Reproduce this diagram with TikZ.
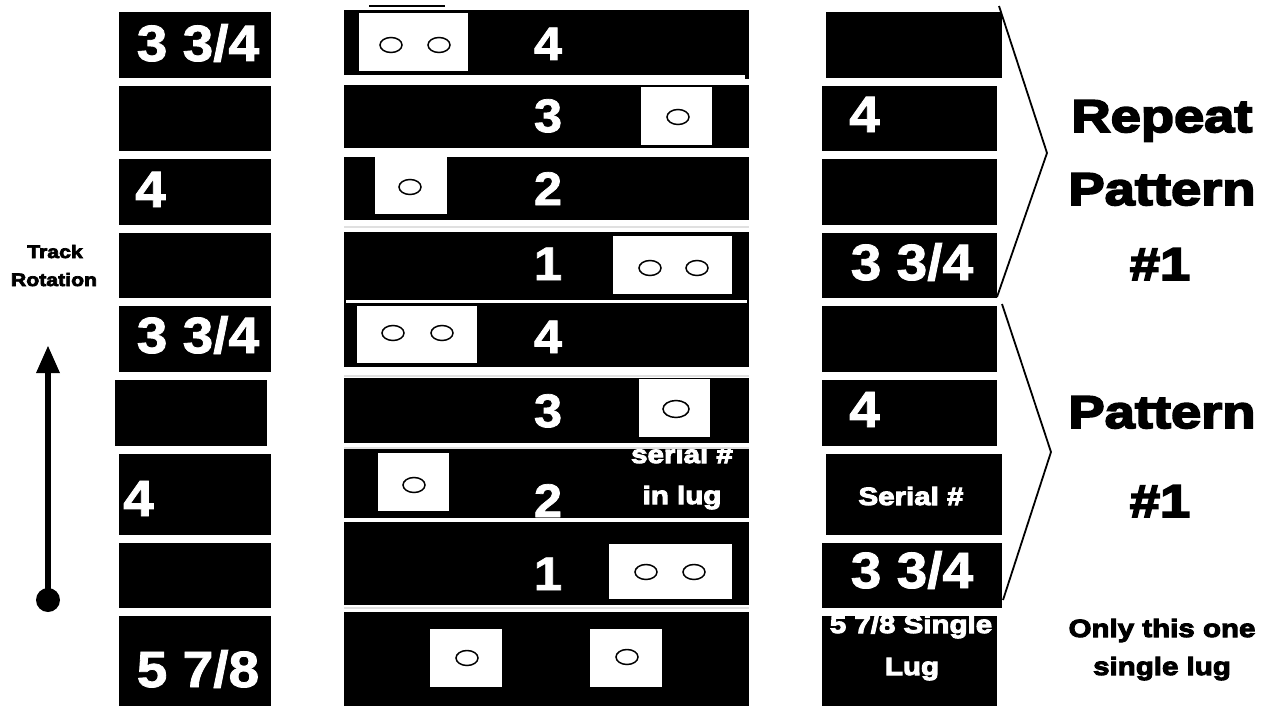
\documentclass[tikz,border=0pt]{standalone}
\usepackage{fontspec}
\setmainfont{Liberation Sans}
\newfontfamily\numf[FakeBold=1.6,FakeStretch=1.08]{Liberation Sans Bold}
\newfontfamily\heavy[FakeBold=4,FakeStretch=1.18]{Liberation Sans Bold}
\begin{document}
\begin{tikzpicture}[x=1pt,y=-1pt,
  blk/.style={fill=black},
  lugbox/.style={fill=white},
  hole/.style={draw=black,line width=1.5pt,fill=white},
  sep/.style={draw=black!12,line width=1.2pt},
  brk/.style={draw=black,line width=1.8pt},
  bignum/.style={text=white,font=\numf\fontsize{51}{51}\selectfont,inner sep=0pt,anchor=base},
  midnum/.style={text=white,font=\numf\fontsize{47}{47}\selectfont,inner sep=0pt,anchor=base},
  wlabel/.style={text=white,font=\heavy\fontsize{25}{25}\selectfont,inner sep=0pt,anchor=base},
  head/.style={text=black,font=\heavy\fontsize{46}{46}\selectfont,inner sep=0pt,anchor=base},
  note/.style={text=black,font=\heavy\fontsize{25}{25}\selectfont,inner sep=0pt,anchor=base},
  small/.style={text=black,font=\heavy\fontsize{18}{18}\selectfont,inner sep=0pt,anchor=base}]
\useasboundingbox (0,0) rectangle (1271,706);
% ---------------- left column ----------------
\fill[blk] (119,12) rectangle (271,78);
\fill[blk] (119,86) rectangle (271,151);
\fill[blk] (119,159) rectangle (271,225);
\fill[blk] (119,233) rectangle (271,298);
\fill[blk] (119,306) rectangle (271,372);
\fill[blk] (115,380) rectangle (267,446);
\fill[blk] (119,454) rectangle (271,535);
\fill[blk] (119,543) rectangle (271,608);
\fill[blk] (119,616) rectangle (271,706);
\node[bignum] (l1) at (198,61) {3 3/4};
\node[bignum,anchor=base west] (l3) at (135,207) {4};
\begin{scope}
\clip (119,306) rectangle (271,372);
\node[bignum] (l5) at (198,353) {3 3/4};
\end{scope}
\node[bignum,anchor=base west] (l7) at (123,516) {4};
\node[bignum] (l9) at (198,687) {5 7/8};
% track rotation
\node[small] (track) at (55,258) {Track};
\node[small] (rot) at (54,286) {Rotation};
\coordinate (arrS) at (48,600);
\coordinate (arrE) at (48,370);
\coordinate (arrT) at (48,346);
\draw[line width=6pt] (arrS) -- (arrE);
\fill (36,373) -- (arrT) -- (60,373) -- cycle;
\fill (arrS) circle [radius=12];
% ---------------- middle column ----------------
\coordinate (topa) at (369,6);
\coordinate (topb) at (445,6);
\draw[line width=2.5pt] (topa) -- (topb);
% row 1
\fill[blk] (344,10) rectangle (749,75);
\fill[blk] (745,74) rectangle (749,79);
\fill[lugbox] (359,13) rectangle (468,71);
\draw[hole] (391,45) ellipse [x radius=11,y radius=7.5];
\draw[hole] (439,45) ellipse [x radius=11,y radius=7.5];
\node[midnum] (m1) at (548,60) {4};
% row 2
\fill[blk] (344,85) rectangle (749,148);
\fill[lugbox] (641,87) rectangle (712,145);
\draw[hole] (678,117) ellipse [x radius=11,y radius=7.5];
\node[midnum] (m2) at (548,132) {3};
% row 3
\fill[blk] (344,157) rectangle (749,220);
\fill[lugbox] (375,156) rectangle (447,214);
\draw[hole] (410,187) ellipse [x radius=11,y radius=7.5];
\node[midnum] (m3) at (548,205) {2};
\draw[sep] (344,227) -- (749,227);
% row 4
\fill[blk] (344,232) rectangle (749,304);
\fill[lugbox] (613,236) rectangle (732,294);
\draw[hole] (650,268) ellipse [x radius=11,y radius=7.5];
\draw[hole] (697,268) ellipse [x radius=11,y radius=7.5];
\node[midnum] (m4) at (548,280) {1};
\fill[white] (346,299.5) rectangle (747,303);
% row 5
\fill[blk] (344,304) rectangle (749,367);
\fill[lugbox] (357,306) rectangle (477,363);
\draw[hole] (393,333) ellipse [x radius=11,y radius=7.5];
\draw[hole] (442,333) ellipse [x radius=11,y radius=7.5];
\node[midnum] (m5) at (548,353) {4};
\draw[sep] (344,376) -- (749,376);
% row 6
\fill[blk] (344,378) rectangle (749,443);
\fill[lugbox] (639,379) rectangle (710,437);
\draw[hole] (676,409) ellipse [x radius=13,y radius=8.5];
\node[midnum] (m6) at (548,427) {3};
\draw[sep] (344,448) -- (749,448);
% row 7
\fill[blk] (344,449) rectangle (749,518);
\fill[lugbox] (378,453) rectangle (449,511);
\draw[hole] (414,485) ellipse [x radius=11,y radius=7.5];
\begin{scope}
\clip (344,449) rectangle (749,518);
\node[midnum] (m7) at (548,517) {2};
\node[wlabel] (ser1) at (682,463) {serial \#};
\end{scope}
\node[wlabel] (ser2) at (682,504) {in lug};
% row 8
\fill[blk] (344,522) rectangle (749,605);
\fill[white] (344,518) rectangle (745,522);
\fill[lugbox] (609,544) rectangle (732,599);
\draw[hole] (646,572) ellipse [x radius=11,y radius=7.5];
\draw[hole] (694,572) ellipse [x radius=11,y radius=7.5];
\node[midnum] (m8) at (548,590) {1};
\draw[sep] (344,608) -- (749,608);
% row 9
\fill[blk] (344,612) rectangle (749,706);
\fill[lugbox] (430,629) rectangle (502,687);
\draw[hole] (467,658) ellipse [x radius=11,y radius=7.5];
\fill[lugbox] (590,629) rectangle (662,687);
\draw[hole] (627,657) ellipse [x radius=11,y radius=7.5];
% ---------------- right column ----------------
\fill[blk] (826,12) rectangle (1002,78);
\fill[blk] (822,86) rectangle (997,151);
\fill[blk] (822,159) rectangle (997,225);
\fill[blk] (822,233) rectangle (997,298);
\fill[blk] (822,306) rectangle (997,372);
\fill[blk] (822,380) rectangle (997,446);
\fill[blk] (826,454) rectangle (1002,535);
\fill[blk] (822,543) rectangle (1002,608);
\fill[blk] (822,616) rectangle (997,706);
\node[bignum,anchor=base west] (r2) at (849,132) {4};
\node[bignum] (r4) at (912,280) {3 3/4};
\node[bignum,anchor=base west] (r6) at (849,427) {4};
\node[wlabel] (r7) at (911,505) {Serial \#};
\node[bignum] (r8) at (912,588) {3 3/4};
\begin{scope}
\clip (822,616) rectangle (997,706);
\node[wlabel] (r9a) at (911,633) {5 7/8 Single};
\end{scope}
\node[wlabel] (r9b) at (912,675) {Lug};
% brackets
\coordinate (b1s) at (999,6);
\coordinate (b1a) at (1047,153);
\coordinate (b1e) at (997,297);
\draw[brk] (b1s) -- (b1a) -- (b1e);
\coordinate (b2s) at (1002,304);
\coordinate (b2a) at (1051,452);
\coordinate (b2e) at (1003,600);
\draw[brk] (b2s) -- (b2a) -- (b2e);
% headings
\node[head] (h1) at (1162,132) {Repeat};
\node[head] (h2) at (1162,205) {Pattern};
\node[head] (h3) at (1160,280) {\#1};
\node[head] (h4) at (1162,428) {Pattern};
\node[head] (h5) at (1160,517) {\#1};
\node[note] (n1) at (1162,637) {Only this one};
\node[note] (n2) at (1162,675) {single lug};
\end{tikzpicture}
\end{document}
